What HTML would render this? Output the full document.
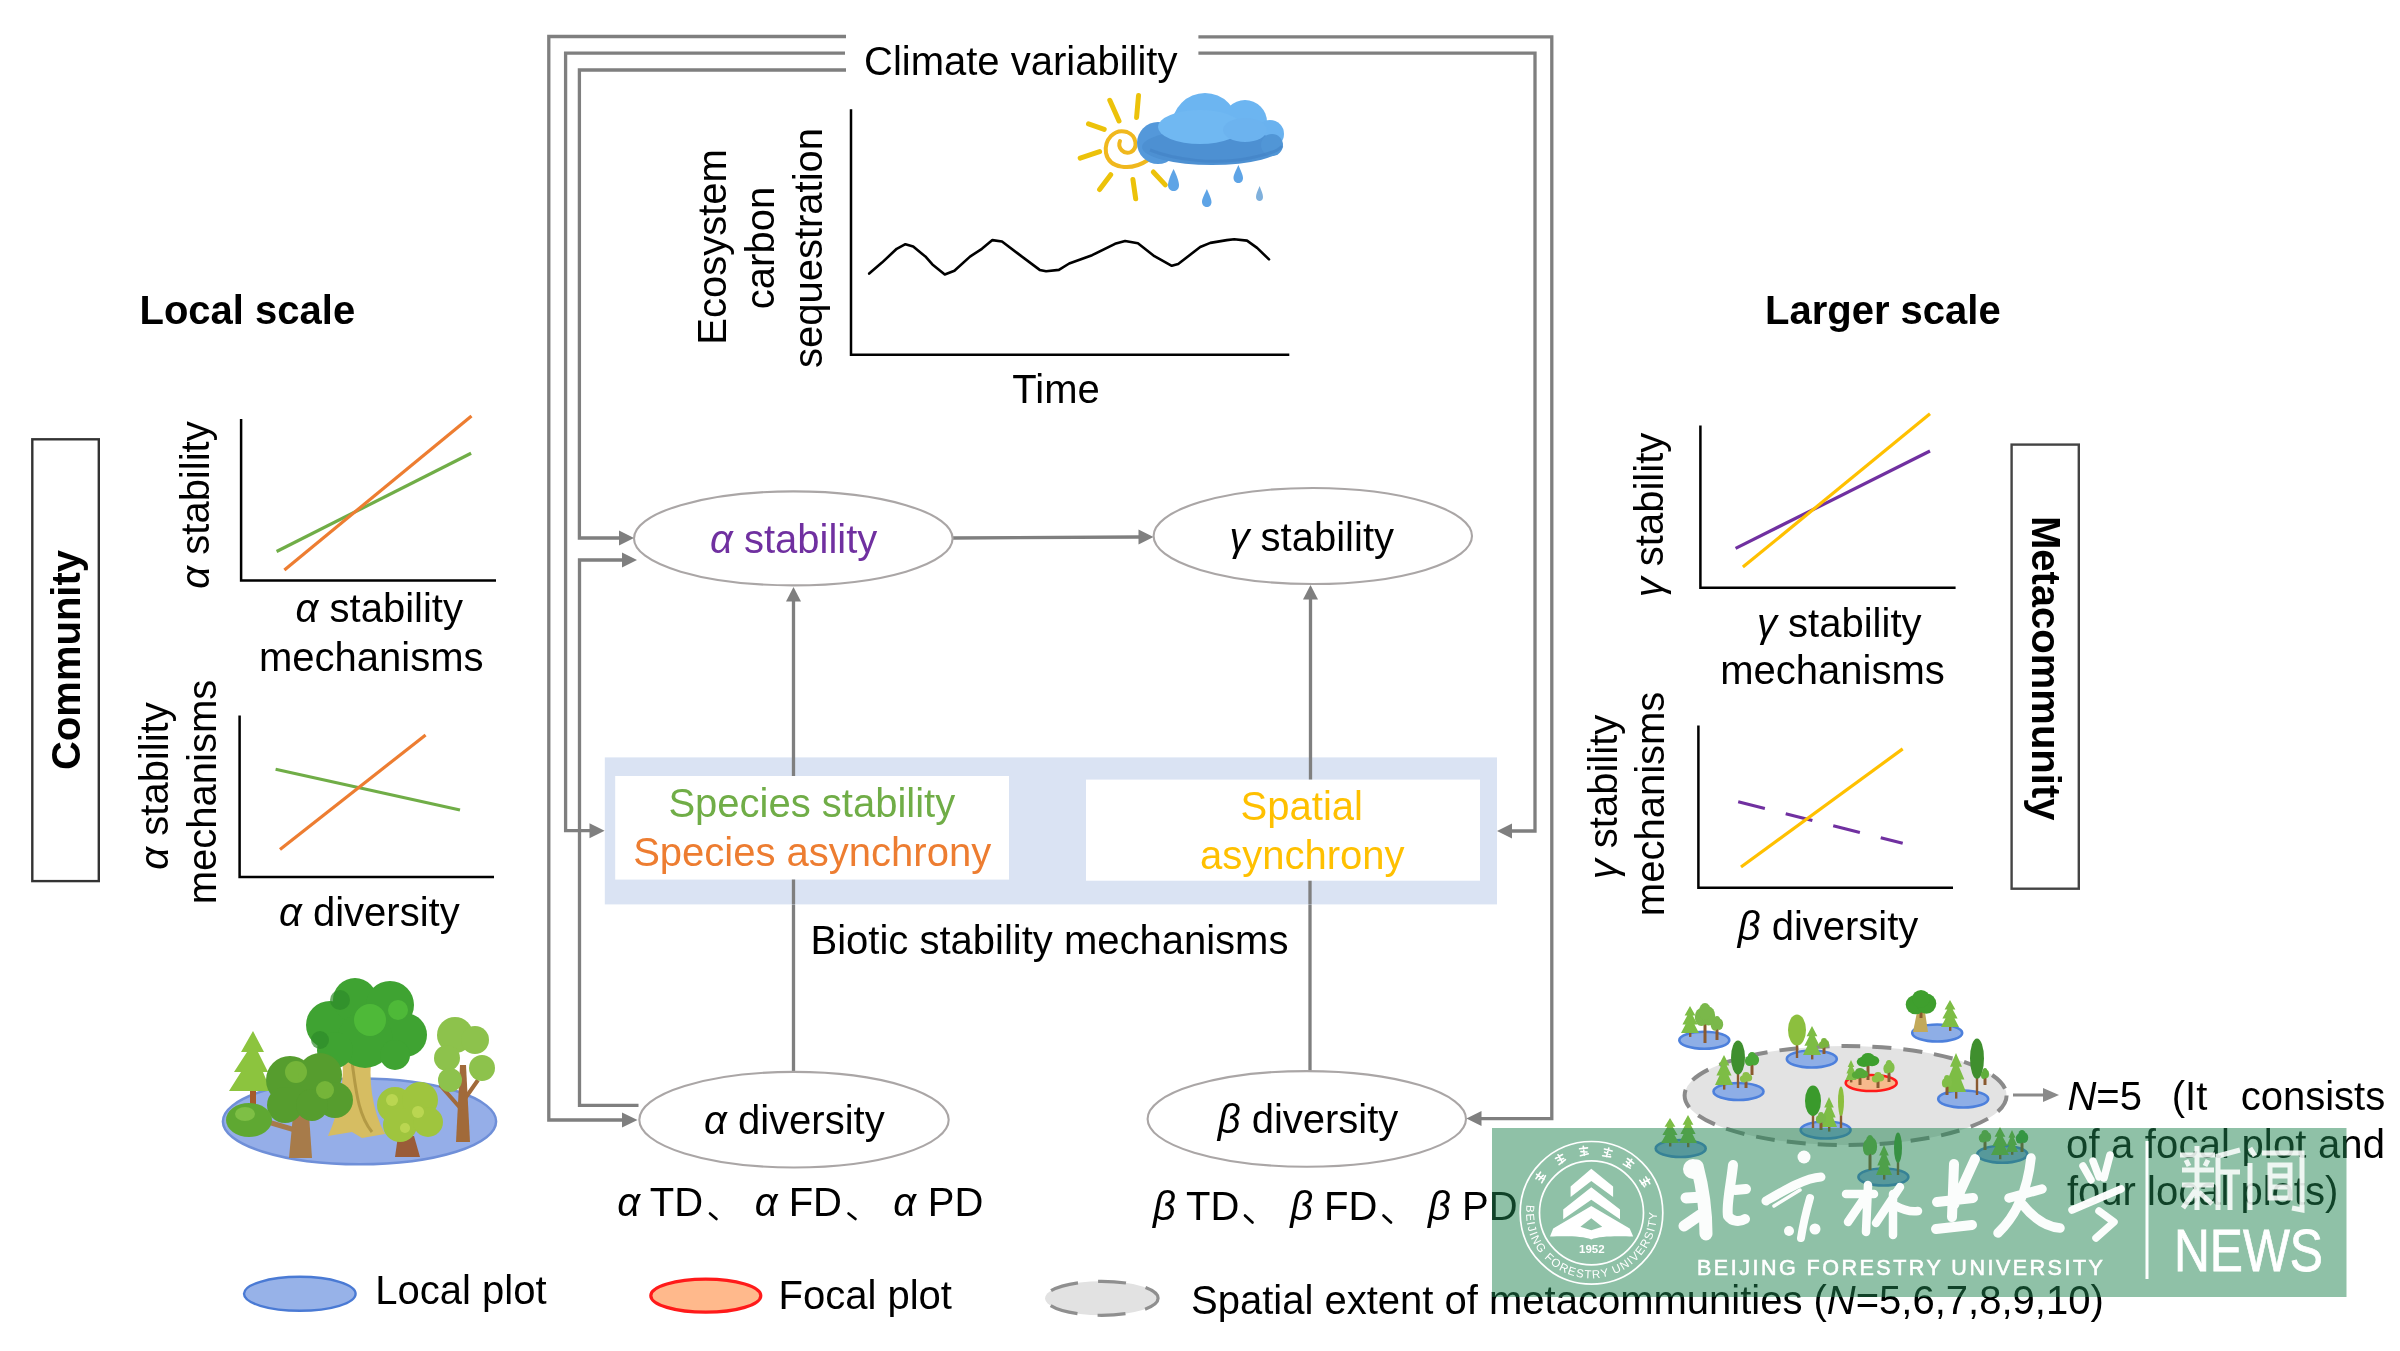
<!DOCTYPE html>
<html><head><meta charset="utf-8"><title>Diagram</title>
<style>
html,body{margin:0;padding:0;background:#fff;width:2400px;height:1351px;overflow:hidden}
svg{display:block;position:absolute;left:0;top:0;will-change:transform}
text{font-family:"Liberation Sans",sans-serif;font-size:40px;fill:#000}
.it{font-style:italic}
.b{font-weight:700}
</style></head><body>
<svg width="2400" height="1351" viewBox="0 0 2400 1351">
<!-- ===== connector brackets ===== -->
<g fill="none" stroke="#7f7f7f" stroke-width="3.3" stroke-linejoin="miter" stroke-linecap="butt">
  <path d="M846,36.5 H548.8 V1120 H624"/>
  <path d="M845,53.2 H565.6 V830.7 H591"/>
  <path d="M846,70 H579.4 V538 H620"/>
  <path d="M638.5,1105.4 H579.5 V560 H623"/>
  <path d="M1198.4,36.9 H1551.8 V1118.6 H1480"/>
  <path d="M1198.4,53.2 H1535 V831 H1511"/>
  <path d="M952,538 L1139,537"/>
  <path d="M793.5,757 V600"/>
  <path d="M793.5,904 V1072"/>
  <path d="M1310.5,757 V598"/>
  <path d="M1310,904 V1071"/>
</g>
<g fill="#7f7f7f">
  <polygon points="622,1112.5 637.5,1120 622,1127.5"/>
  <polygon points="589.5,823.2 604.6,830.7 589.5,838.2"/>
  <polygon points="619,530.5 634,538 619,545.5"/>
  <polygon points="622,552.5 637,560 622,567.5"/>
  <polygon points="1481.5,1111.1 1466.4,1118.6 1481.5,1126.1"/>
  <polygon points="1512,823.5 1497,831 1512,838.5"/>
  <polygon points="1138.5,529.5 1153.5,537 1138.5,544.5"/>
  <polygon points="786,601.5 793.5,587 801,601.5"/>
  <polygon points="1303,599.5 1310.5,585 1318,599.5"/>
</g>
<!-- ===== ellipses ===== -->
<g fill="#fff" stroke="#aaa6a6" stroke-width="2.1">
  <ellipse cx="793.3" cy="538.4" rx="159.3" ry="47"/>
  <ellipse cx="1312.8" cy="536" rx="159.2" ry="48"/>
  <ellipse cx="794" cy="1119.7" rx="154.7" ry="47.8"/>
  <ellipse cx="1306.8" cy="1118.9" rx="159.2" ry="47.8"/>
</g>
<!-- ===== biotic box ===== -->
<rect x="604.8" y="757.4" width="892.2" height="147" fill="#dae3f3"/>
<rect x="615.2" y="776" width="393.8" height="103.6" fill="#fff"/>
<rect x="1086" y="779.6" width="394" height="101.1" fill="#fff"/>
<path d="M793.5,757 V776 M793.5,879.6 V904 M1310.5,757 V779.6 M1310,880.7 V904" stroke="#7f7f7f" stroke-width="3.3"/>

<!-- ===== texts ===== -->
<text x="864" y="75">Climate variability</text>
<text class="b" x="139.5" y="323.7">Local scale</text>
<text class="b" x="1765" y="323.8">Larger scale</text>
<text x="1012.3" y="403.3">Time</text>
<text x="710" y="553" style="fill:#7030a0"><tspan class="it">α</tspan> stability</text>
<text x="1229.5" y="550.7"><tspan class="it">γ</tspan> stability</text>
<text x="668.4" y="816.7" style="fill:#70ad47">Species stability</text>
<text x="633.2" y="865.5" style="fill:#ed7d31">Species asynchrony</text>
<text x="1240.6" y="820" style="fill:#ffc000">Spatial</text>
<text x="1200" y="868.5" style="fill:#ffc000">asynchrony</text>
<text x="810.5" y="954.2">Biotic stability mechanisms</text>
<text x="704" y="1133.7"><tspan class="it">α</tspan> diversity</text>
<text x="1217.7" y="1132.5"><tspan class="it">β</tspan> diversity</text>

<!-- TD FD PD lines -->
<text class="it" x="617.3" y="1216.3">α</text><text x="649.8" y="1216.3">TD</text>
<text class="it" x="754.8" y="1216.3">α</text><text x="788.7" y="1216.3">FD</text>
<text class="it" x="893.2" y="1216.3">α</text><text x="927.8" y="1216.3">PD</text>
<text class="it" x="1153" y="1219.7">β</text><text x="1186" y="1219.7">TD</text>
<text class="it" x="1290.2" y="1219.7">β</text><text x="1324" y="1219.7">FD</text>
<text class="it" x="1428" y="1219.7">β</text><text x="1462" y="1219.7">PD</text>
<g stroke="#000" stroke-width="2.6" stroke-linecap="round">
  <path d="M710,1213.5 L716.5,1219"/><path d="M848.5,1213.5 L855.5,1219"/>
  <path d="M1245,1215.5 L1252.5,1222.5"/><path d="M1383.5,1215.5 L1391,1222.5"/>
</g>

<!-- ecosystem chart -->
<text transform="translate(726.4,247) rotate(-90)" text-anchor="middle">Ecosystem</text>
<text transform="translate(774,248) rotate(-90)" text-anchor="middle">carbon</text>
<text transform="translate(822.4,248) rotate(-90)" text-anchor="middle">sequestration</text>
<path d="M851,109.3 V354.8 H1289.3" fill="none" stroke="#000" stroke-width="2.5"/>
<polyline points="869.2,273.6 882,262.6 896.7,248.8 905.4,244.2 913.2,246.5 926,257.1 932.4,264.4 944.8,274.5 954.4,270.8 970,256.6 981.9,248.8 992.4,240.1 1002,241.5 1017.7,253.4 1039.7,269.9 1046.1,271.3 1058.9,269.9 1069.2,263.5 1092.1,255.2 1115,243.8 1125.1,241 1137.9,243.3 1154.4,256.2 1171.8,265.8 1178.2,264 1200.2,247 1210.3,242.9 1226.8,240.1 1234.2,239.2 1247,240.6 1257.1,247.9 1269,259.4" fill="none" stroke="#000" stroke-width="2.6" stroke-linejoin="round" stroke-linecap="round"/>

<!-- left charts -->
<rect x="32.3" y="439.3" width="66.5" height="441.8" fill="none" stroke="#333" stroke-width="2.4"/>
<text class="b" transform="translate(79.9,660) rotate(-90)" text-anchor="middle">Community</text>
<path d="M241.1,418.9 V580.4 H496" fill="none" stroke="#000" stroke-width="2.5"/>
<path d="M276.6,551.5 L471.1,453.3" stroke="#70ad47" stroke-width="3.2"/>
<path d="M284.4,569.9 L471.5,416" stroke="#ed7d31" stroke-width="3.2"/>
<text transform="translate(209.4,505) rotate(-90)" text-anchor="middle"><tspan class="it">α</tspan> stability</text>
<text x="295.6" y="622"><tspan class="it">α</tspan> stability</text>
<text x="259" y="670.7">mechanisms</text>
<path d="M239.6,715.6 V877.1 H494" fill="none" stroke="#000" stroke-width="2.5"/>
<path d="M275.6,769.3 L460,810" stroke="#70ad47" stroke-width="3.2"/>
<path d="M280,849.6 L425.6,734.9" stroke="#ed7d31" stroke-width="3.2"/>
<text transform="translate(167.8,786) rotate(-90)" text-anchor="middle"><tspan class="it">α</tspan> stability</text>
<text transform="translate(216.3,792) rotate(-90)" text-anchor="middle">mechanisms</text>
<text x="279" y="925.6"><tspan class="it">α</tspan> diversity</text>

<!-- right charts -->
<rect x="2011.6" y="444.6" width="67.2" height="444.1" fill="none" stroke="#444" stroke-width="2.4"/>
<text class="b" transform="translate(2031.5,668.2) rotate(90)" text-anchor="middle">Metacommunity</text>
<path d="M1700.4,425.6 V587.8 H1955.6" fill="none" stroke="#000" stroke-width="2.5"/>
<path d="M1735.6,548.4 L1930,451" stroke="#7030a0" stroke-width="3.2"/>
<path d="M1742.9,567.1 L1930,413.8" stroke="#ffc000" stroke-width="3.2"/>
<text transform="translate(1663.3,515) rotate(-90)" text-anchor="middle"><tspan class="it">γ</tspan> stability</text>
<text x="1757" y="636.7"><tspan class="it">γ</tspan> stability</text>
<text x="1720.3" y="684.4">mechanisms</text>
<path d="M1698.4,725.6 V887.8 H1953" fill="none" stroke="#000" stroke-width="2.5"/>
<path d="M1738.2,801.8 L1902.7,843.3" stroke="#7030a0" stroke-width="3.2" stroke-dasharray="27.5,21.5"/>
<path d="M1741,867 L1902.7,748.9" stroke="#ffc000" stroke-width="3.2"/>
<text transform="translate(1616.7,797) rotate(-90)" text-anchor="middle"><tspan class="it">γ</tspan> stability</text>
<text transform="translate(1664.4,803.9) rotate(-90)" text-anchor="middle">mechanisms</text>
<text x="1737.7" y="940"><tspan class="it">β</tspan> diversity</text>

<!-- legend -->
<ellipse cx="299.8" cy="1293.8" rx="55.8" ry="17" fill="#97b2e8" stroke="#4a7ad4" stroke-width="2.4"/>
<text x="375.3" y="1303.6">Local plot</text>
<ellipse cx="705.8" cy="1295.7" rx="55" ry="16.5" fill="#ffb98c" stroke="#ff1a1a" stroke-width="3.2"/>
<text x="778.5" y="1309">Focal plot</text>
<ellipse cx="1101.6" cy="1298.3" rx="56.5" ry="17" fill="#e2e2e2" stroke="#8f8f8f" stroke-width="3.2" stroke-dasharray="28,20" stroke-dashoffset="10"/>
<text x="1191" y="1314.2">Spatial extent of metacommunities (<tspan class="it">N</tspan>=5,6,7,8,9,10)</text>

<!-- N=5 text -->
<text x="2067.4" y="1109.6"><tspan class="it">N</tspan>=5</text>
<text x="2171.8" y="1109.6">(It</text>
<text x="2240.7" y="1109.6">consists</text>
<text x="2066" y="1158" textLength="319" lengthAdjust="spacing">of a focal plot and</text>
<text x="2067" y="1205.4">four local plots)</text>

<g id="icons">
<!-- sun -->
<g fill="none" stroke="#ecc20a" stroke-width="5" stroke-linecap="round">
  <path d="M1109.8,100.3 L1119,121"/>
  <path d="M1138.5,95.6 L1136.6,117.4"/>
  <path d="M1088.5,123.9 L1104.2,129.4"/>
  <path d="M1080.2,158.1 L1099.6,151.6"/>
  <path d="M1099.6,189.5 L1110.7,174.7"/>
  <path d="M1132.9,179.4 L1135.7,198.8"/>
  <path d="M1153.3,172 L1165.3,184.9"/>
  <path d="M1120,141 C1117,148 1124,155 1131,152 C1138,148 1137,136 1127,132 C1114,128 1104,140 1106,153 C1109,168 1130,172 1148,160" stroke="#f0b81e" stroke-width="4"/>
</g>
<!-- cloud -->
<g>
  <circle cx="1205" cy="126" r="33" fill="#6cb5f1"/>
  <circle cx="1245" cy="122" r="22" fill="#6cb5f1"/>
  <circle cx="1270" cy="134" r="14" fill="#6ab2ef"/>
  <circle cx="1158" cy="143" r="21" fill="#5498da"/>
  <ellipse cx="1212" cy="147" rx="70" ry="18" fill="#4d90d2"/>
  <circle cx="1272" cy="145" r="11" fill="#5196d6"/>
  <ellipse cx="1200" cy="127" rx="42" ry="17" fill="#70b8f2"/>
  <ellipse cx="1245" cy="130" rx="22" ry="12" fill="#6cb3ef"/>
  <path d="M1150,150 C1175,160 1215,165 1250,158 C1265,155 1278,152 1282,146" fill="none" stroke="#4282c4" stroke-width="3" opacity="0.6"/>
</g>
<g fill="#5ea4e6">
  <path d="M1173.6,169 C1170,176 1168,182 1168,185 C1168,189 1171,191 1173.6,191 C1176.5,191 1179,189 1179,185 C1179,182 1177,176 1173.6,169Z"/>
  <path d="M1206.9,189 C1204,195 1202,199 1202,202 C1202,205 1204.5,207 1206.9,207 C1209.5,207 1211.5,205 1211.5,202 C1211.5,199 1209.5,195 1206.9,189Z"/>
  <path d="M1238.4,165 C1235.5,171 1233.5,175 1233.5,178 C1233.5,181 1236,183 1238.4,183 C1241,183 1243,181 1243,178 C1243,175 1241,171 1238.4,165Z"/>
  <path d="M1259.6,186 C1257.5,191 1256,194 1256,197 C1256,199.5 1257.8,201 1259.6,201 C1261.5,201 1263,199.5 1263,197 C1263,194 1261.5,191 1259.6,186Z" fill="#7fb0dc"/>
</g>

<!-- ===== local plot trees ===== -->
<ellipse cx="359.5" cy="1121.4" rx="136.6" ry="42.9" fill="#95aee8" stroke="#6f8fd8" stroke-width="2.5"/>
<!-- pine left -->
<path d="M250,1086 h6 v22 h-6z" fill="#a55a2c"/>
<path d="M253,1031 L241,1052 L247,1052 L234,1072 L241,1072 L229,1091 L271,1091 L263,1072 L268,1072 L258,1052 L264,1052 Z" fill="#8cc43e"/>
<!-- center tall tree -->
<path d="M342,1050 C345,1080 340,1110 328,1136 L352,1132 L362,1138 L385,1134 C372,1110 368,1080 372,1050 Z" fill="#d6bd62"/>
<path d="M352,1062 C356,1090 358,1115 372,1132" stroke="#b39a45" stroke-width="3" fill="none"/>
<g fill="#3fa332">
  <circle cx="330" cy="1025" r="24"/>
  <circle cx="355" cy="1000" r="22"/>
  <circle cx="390" cy="1005" r="24"/>
  <circle cx="405" cy="1035" r="22"/>
  <circle cx="365" cy="1040" r="28"/>
  <circle cx="335" cy="1050" r="18"/>
  <circle cx="395" cy="1055" r="15"/>
</g>
<g fill="#52bf3a" opacity="0.8">
  <circle cx="370" cy="1020" r="16"/>
  <circle cx="398" cy="1010" r="10"/>
</g>
<g fill="#2e8a2a" opacity="0.7">
  <circle cx="340" cy="1000" r="10"/>
  <circle cx="320" cy="1040" r="9"/>
</g>
<!-- right tree -->
<path d="M460,1065 L466,1065 L470,1142 L456,1142 Z" fill="#a16a3a"/>
<path d="M462,1110 L440,1085 M464,1100 L478,1080" stroke="#a16a3a" stroke-width="4" fill="none"/>
<g fill="#8dc24c">
  <circle cx="455" cy="1035" r="18"/>
  <circle cx="475" cy="1040" r="14"/>
  <circle cx="447" cy="1058" r="13"/>
  <circle cx="482" cy="1068" r="13"/>
  <circle cx="450" cy="1080" r="12"/>
</g>
<!-- left oak -->
<path d="M293,1115 L309,1115 L312,1158 L289,1158 Z" fill="#a77b4a"/>
<path d="M295,1130 L268,1122" stroke="#a77b4a" stroke-width="5"/>
<g fill="#569d2e">
  <circle cx="290" cy="1080" r="24"/>
  <circle cx="320" cy="1075" r="22"/>
  <circle cx="335" cy="1100" r="18"/>
  <circle cx="285" cy="1105" r="18"/>
  <circle cx="312" cy="1105" r="16"/>
</g>
<g fill="#7dbb3c" opacity="0.8">
  <circle cx="296" cy="1072" r="11"/>
  <circle cx="325" cy="1090" r="9"/>
</g>
<!-- small bush -->
<ellipse cx="249" cy="1120" rx="23" ry="17" fill="#5fa832"/>
<ellipse cx="245" cy="1114" rx="10" ry="7" fill="#86c44a" opacity="0.8"/>
<!-- right bush -->
<path d="M398,1136 L414,1136 L420,1157 L395,1157 Z" fill="#9a5c38"/>
<g fill="#9fc53e">
  <circle cx="395" cy="1105" r="18"/>
  <circle cx="420" cy="1100" r="18"/>
  <circle cx="400" cy="1125" r="17"/>
  <circle cx="428" cy="1122" r="15"/>
</g>
<g fill="#c6de5a" opacity="0.7">
  <circle cx="392" cy="1100" r="6"/><circle cx="418" cy="1112" r="6"/><circle cx="405" cy="1128" r="5"/>
</g>
</g>

<g id="meta">
<ellipse cx="1845.6" cy="1095.5" rx="161" ry="49.5" fill="#e3e3e3" stroke="#8a8a8a" stroke-width="4" stroke-dasharray="19,12"/>
<path d="M2013,1095 H2044" stroke="#8a8a8a" stroke-width="3"/>
<polygon points="2043,1088 2059,1095 2043,1102" fill="#8a8a8a"/>
<ellipse cx="1704.3" cy="1040.2" rx="25" ry="8.5" fill="#8eaee6" stroke="#4d80dc" stroke-width="2.6"/>
<path d="M1689,1031 h2.4 v5.9 h-2.4z" fill="#8a5a30"/><path d="M1690.0,1006.0 L1684.6,1015.5 L1687.3,1015.5 L1682.4,1024.4 L1685.5,1024.4 L1681.0,1033.0 L1699.0,1033.0 L1694.5,1024.4 L1697.6,1024.4 L1692.7,1015.5 L1695.4,1015.5Z" fill="#7dbd45"/>
<path d="M1703.5,1022.2 h3 v20.8 h-3z" fill="#8a5a30"/><ellipse cx="1701.4" cy="1017.0" rx="6.6" ry="9.1" fill="#7ab84a"/><ellipse cx="1708.6" cy="1016.0" rx="6.6" ry="9.6" fill="#7ab84a"/><ellipse cx="1705" cy="1011.4" rx="6.0" ry="8.4" fill="#7ab84a"/>
<path d="M1715.5,1027.5 h3 v12.5 h-3z" fill="#8a5a30"/><ellipse cx="1714.8" cy="1025.2" rx="4.0" ry="5.5" fill="#7ab84a"/><ellipse cx="1719.2" cy="1024.2" rx="4.0" ry="5.8" fill="#7ab84a"/><ellipse cx="1717" cy="1021.0" rx="3.6" ry="5.0" fill="#7ab84a"/>
<ellipse cx="1738.5" cy="1091.5" rx="25" ry="8.5" fill="#8eaee6" stroke="#4d80dc" stroke-width="2.6"/>
<path d="M1723,1083 h2.4 v6.6 h-2.4z" fill="#8a5a30"/><path d="M1724.0,1055.0 L1718.6,1065.5 L1721.3,1065.5 L1716.4,1075.4 L1719.5,1075.4 L1715.0,1085.0 L1733.0,1085.0 L1728.5,1075.4 L1731.6,1075.4 L1726.7,1065.5 L1729.4,1065.5Z" fill="#7dbd45"/>
<path d="M1736.8,1069.2 h2.4 v18.8 h-2.4z" fill="#8a5a30"/><ellipse cx="1738" cy="1057.5" rx="7.0" ry="16.9" fill="#3f8f2e"/>
<path d="M1750.5,1063.0 h3 v12.0 h-3z" fill="#8a5a30"/><ellipse cx="1749.5" cy="1060.9" rx="4.6" ry="5.2" fill="#49a836"/><ellipse cx="1754.5" cy="1059.9" rx="4.6" ry="5.5" fill="#49a836"/><ellipse cx="1752" cy="1056.8" rx="4.2" ry="4.8" fill="#49a836"/>
<path d="M1744.5,1079.7 h3 v8.3 h-3z" fill="#8a5a30"/><ellipse cx="1743.8" cy="1078.8" rx="4.0" ry="3.6" fill="#8cc04a"/><ellipse cx="1748.2" cy="1077.8" rx="4.0" ry="3.8" fill="#8cc04a"/><ellipse cx="1746" cy="1075.4" rx="3.6" ry="3.4" fill="#8cc04a"/>
<ellipse cx="1811.8" cy="1059" rx="25" ry="8.5" fill="#8eaee6" stroke="#4d80dc" stroke-width="2.6"/>
<path d="M1795.8,1040.8 h2.4 v17.2 h-2.4z" fill="#8a5a30"/><ellipse cx="1797" cy="1030.0" rx="9.0" ry="15.5" fill="#8cbf3e"/>
<path d="M1811,1053 h2.4 v6.4 h-2.4z" fill="#8a5a30"/><path d="M1812.0,1026.0 L1806.6,1036.2 L1809.3,1036.2 L1804.4,1045.7 L1807.5,1045.7 L1803.0,1055.0 L1821.0,1055.0 L1816.5,1045.7 L1819.6,1045.7 L1814.7,1036.2 L1817.4,1036.2Z" fill="#7dbd45"/>
<path d="M1822.5,1045.7 h3 v8.3 h-3z" fill="#8a5a30"/><ellipse cx="1822.2" cy="1044.8" rx="3.3" ry="3.6" fill="#7ab43e"/><ellipse cx="1825.8" cy="1043.8" rx="3.3" ry="3.8" fill="#7ab43e"/><ellipse cx="1824" cy="1041.4" rx="3.0" ry="3.4" fill="#7ab43e"/>
<ellipse cx="1871.2" cy="1083" rx="25.5" ry="8" fill="#f7b98c" stroke="#ff1a1a" stroke-width="2.6"/>
<path d="M1866.5,1063.8 h3 v16.2 h-3z" fill="#8a5a30"/><ellipse cx="1864.0" cy="1061.8" rx="7.3" ry="5.1" fill="#3d9f2e"/><ellipse cx="1872.0" cy="1060.8" rx="7.3" ry="5.4" fill="#3d9f2e"/><ellipse cx="1868" cy="1057.7" rx="6.6" ry="4.7" fill="#3d9f2e"/>
<path d="M1850,1078 h2.4 v4.4 h-2.4z" fill="#8a5a30"/><path d="M1851.0,1060.0 L1847.7,1067.0 L1849.3,1067.0 L1846.4,1073.6 L1848.2,1073.6 L1845.5,1080.0 L1856.5,1080.0 L1853.8,1073.6 L1855.6,1073.6 L1852.7,1067.0 L1854.3,1067.0Z" fill="#80be48"/>
<path d="M1858.5,1076.2 h3 v8.8 h-3z" fill="#8a5a30"/><ellipse cx="1857.1" cy="1075.1" rx="5.3" ry="3.9" fill="#55a838"/><ellipse cx="1862.9" cy="1074.1" rx="5.3" ry="4.1" fill="#55a838"/><ellipse cx="1860" cy="1071.6" rx="4.8" ry="3.6" fill="#55a838"/>
<path d="M1887.5,1070.6 h3 v11.4 h-3z" fill="#8a5a30"/><ellipse cx="1887.0" cy="1068.6" rx="3.6" ry="5.0" fill="#82bf4a"/><ellipse cx="1891.0" cy="1067.6" rx="3.6" ry="5.3" fill="#82bf4a"/><ellipse cx="1889" cy="1064.6" rx="3.3" ry="4.6" fill="#82bf4a"/>
<path d="M1876.5,1079.7 h3 v8.3 h-3z" fill="#8a5a30"/><ellipse cx="1875.8" cy="1078.8" rx="4.0" ry="3.6" fill="#8ec045"/><ellipse cx="1880.2" cy="1077.8" rx="4.0" ry="3.8" fill="#8ec045"/><ellipse cx="1878" cy="1075.4" rx="3.6" ry="3.4" fill="#8ec045"/>
<ellipse cx="1937.2" cy="1033" rx="25" ry="8.5" fill="#8eaee6" stroke="#4d80dc" stroke-width="2.6"/>
<path d="M1917,1012 L1925,1012 L1928,1032 L1913,1032Z" fill="#c2a95a"/>
<path d="M1919.5,1010.2 h3 v7.8 h-3z" fill="#8a5a30"/><ellipse cx="1915.6" cy="1004.6" rx="9.9" ry="9.6" fill="#3f9f2e"/><ellipse cx="1926.4" cy="1003.6" rx="9.9" ry="10.1" fill="#3f9f2e"/><ellipse cx="1921" cy="998.8" rx="9.0" ry="8.8" fill="#3f9f2e"/>
<path d="M1949,1025 h2.4 v5.9 h-2.4z" fill="#8a5a30"/><path d="M1950.0,1000.0 L1944.6,1009.5 L1947.3,1009.5 L1942.4,1018.4 L1945.5,1018.4 L1941.0,1027.0 L1959.0,1027.0 L1954.5,1018.4 L1957.6,1018.4 L1952.7,1009.5 L1955.4,1009.5Z" fill="#7dbd45"/>
<ellipse cx="1963.2" cy="1099" rx="25" ry="8.5" fill="#8eaee6" stroke="#4d80dc" stroke-width="2.6"/>
<path d="M1955,1090 h2.4 v8.6 h-2.4z" fill="#8a5a30"/><path d="M1956.0,1053.0 L1950.0,1066.7 L1953.0,1066.7 L1947.6,1079.5 L1951.0,1079.5 L1946.0,1092.0 L1966.0,1092.0 L1961.0,1079.5 L1964.4,1079.5 L1959.0,1066.7 L1962.0,1066.7Z" fill="#7dbd45"/>
<path d="M1975.8,1072.6 h2.4 v22.4 h-2.4z" fill="#8a5a30"/><ellipse cx="1977" cy="1058.6" rx="7.0" ry="20.2" fill="#3f8f2e"/>
<path d="M1945.5,1084.6 h3 v10.4 h-3z" fill="#8a5a30"/><ellipse cx="1945.2" cy="1083.0" rx="3.3" ry="4.6" fill="#80be48"/><ellipse cx="1948.8" cy="1082.0" rx="3.3" ry="4.8" fill="#80be48"/><ellipse cx="1947" cy="1079.2" rx="3.0" ry="4.2" fill="#80be48"/>
<path d="M1983.5,1076.2 h3 v8.8 h-3z" fill="#8a5a30"/><ellipse cx="1983.6" cy="1075.1" rx="2.6" ry="3.9" fill="#5fae3c"/><ellipse cx="1986.4" cy="1074.1" rx="2.6" ry="4.1" fill="#5fae3c"/><ellipse cx="1985" cy="1071.6" rx="2.4" ry="3.6" fill="#5fae3c"/>
<ellipse cx="1825.6" cy="1130" rx="25" ry="8.5" fill="#8eaee6" stroke="#4d80dc" stroke-width="2.6"/>
<path d="M1811.8,1111.2 h2.4 v16.8 h-2.4z" fill="#8a5a30"/><ellipse cx="1813" cy="1100.7" rx="8.0" ry="15.1" fill="#3a9a2c"/>
<path d="M1828,1125 h2.4 v6.6 h-2.4z" fill="#8a5a30"/><path d="M1829.0,1097.0 L1824.2,1107.5 L1826.6,1107.5 L1822.3,1117.4 L1825.0,1117.4 L1821.0,1127.0 L1837.0,1127.0 L1833.0,1117.4 L1835.7,1117.4 L1831.4,1107.5 L1833.8,1107.5Z" fill="#7dbd45"/>
<path d="M1839.8,1111.6 h2.4 v16.4 h-2.4z" fill="#8a5a30"/><ellipse cx="1841" cy="1101.3" rx="3.0" ry="14.8" fill="#8cbf3e"/>
<path d="M1819.5,1120.6 h3 v9.4 h-3z" fill="#8a5a30"/><ellipse cx="1819.2" cy="1119.4" rx="3.3" ry="4.1" fill="#7ab84a"/><ellipse cx="1822.8" cy="1118.4" rx="3.3" ry="4.3" fill="#7ab84a"/><ellipse cx="1821" cy="1115.8" rx="3.0" ry="3.8" fill="#7ab84a"/>
<ellipse cx="1680.7" cy="1148.5" rx="25" ry="8.5" fill="#8eaee6" stroke="#4d80dc" stroke-width="2.6"/>
<path d="M1669,1141 h2.4 v5.5 h-2.4z" fill="#8a5a30"/><path d="M1670.0,1118.0 L1664.6,1126.8 L1667.3,1126.8 L1662.4,1135.0 L1665.5,1135.0 L1661.0,1143.0 L1679.0,1143.0 L1674.5,1135.0 L1677.6,1135.0 L1672.7,1126.8 L1675.4,1126.8Z" fill="#7dbd45"/>
<path d="M1687,1141 h2.4 v6.2 h-2.4z" fill="#8a5a30"/><path d="M1688.0,1115.0 L1682.6,1124.8 L1685.3,1124.8 L1680.4,1134.0 L1683.5,1134.0 L1679.0,1143.0 L1697.0,1143.0 L1692.5,1134.0 L1695.6,1134.0 L1690.7,1124.8 L1693.4,1124.8Z" fill="#7dbd45"/>
<ellipse cx="1883.4" cy="1177" rx="25" ry="8.5" fill="#8eaee6" stroke="#4d80dc" stroke-width="2.6"/>
<path d="M1868.5,1151.8 h3 v18.2 h-3z" fill="#8a5a30"/><ellipse cx="1867.5" cy="1147.5" rx="4.6" ry="8.0" fill="#70b445"/><ellipse cx="1872.5" cy="1146.5" rx="4.6" ry="8.4" fill="#70b445"/><ellipse cx="1870" cy="1142.3" rx="4.2" ry="7.3" fill="#70b445"/>
<path d="M1883,1173 h2.4 v6.6 h-2.4z" fill="#8a5a30"/><path d="M1884.0,1145.0 L1879.2,1155.5 L1881.6,1155.5 L1877.3,1165.4 L1880.0,1165.4 L1876.0,1175.0 L1892.0,1175.0 L1888.0,1165.4 L1890.7,1165.4 L1886.4,1155.5 L1888.8,1155.5Z" fill="#7dbd45"/>
<path d="M1896.8,1158.2 h2.4 v16.8 h-2.4z" fill="#8a5a30"/><ellipse cx="1898" cy="1147.7" rx="4.0" ry="15.1" fill="#4f9f36"/>
<ellipse cx="2002.3" cy="1154.2" rx="25" ry="8.5" fill="#8eaee6" stroke="#4d80dc" stroke-width="2.6"/>
<path d="M1983.5,1139.6 h3 v10.4 h-3z" fill="#8a5a30"/><ellipse cx="1982.8" cy="1138.0" rx="4.0" ry="4.6" fill="#7ab84a"/><ellipse cx="1987.2" cy="1137.0" rx="4.0" ry="4.8" fill="#7ab84a"/><ellipse cx="1985" cy="1134.2" rx="3.6" ry="4.2" fill="#7ab84a"/>
<path d="M1999,1153 h2.4 v6.2 h-2.4z" fill="#8a5a30"/><path d="M2000.0,1127.0 L1994.6,1136.8 L1997.3,1136.8 L1992.4,1146.0 L1995.5,1146.0 L1991.0,1155.0 L2009.0,1155.0 L2004.5,1146.0 L2007.6,1146.0 L2002.7,1136.8 L2005.4,1136.8Z" fill="#7dbd45"/>
<path d="M2011,1150 h2.4 v4.8 h-2.4z" fill="#8a5a30"/><path d="M2012.0,1130.0 L2008.4,1137.7 L2010.2,1137.7 L2007.0,1145.0 L2009.0,1145.0 L2006.0,1152.0 L2018.0,1152.0 L2015.0,1145.0 L2017.0,1145.0 L2013.8,1137.7 L2015.6,1137.7Z" fill="#7dbd45"/>
<path d="M2020.5,1140.6 h3 v11.4 h-3z" fill="#8a5a30"/><ellipse cx="2019.8" cy="1138.6" rx="4.0" ry="5.0" fill="#4aa838"/><ellipse cx="2024.2" cy="1137.6" rx="4.0" ry="5.3" fill="#4aa838"/><ellipse cx="2022" cy="1134.6" rx="3.6" ry="4.6" fill="#4aa838"/>
</g>
<g id="watermark">
<rect x="1492" y="1128" width="854.5" height="169" fill="#1f844f" fill-opacity="0.5"/>
<g fill="none" stroke="#fff" stroke-width="1.7"><circle cx="1591.5" cy="1212.8" r="71.3"/><circle cx="1591.5" cy="1212.8" r="52"/></g>
<g fill="#fff"><path d="M1591.3,1168.8 L1613.1,1186.6 L1613.1,1197 L1591.3,1180.9 L1570.6,1197 L1570.6,1186.6Z"/><path d="M1591.3,1187.2 L1620,1209.6 L1620,1219.3 L1591.3,1199.8 L1563.2,1219.3 L1563.2,1209.6Z"/><path d="M1591.3,1206.1 L1629.7,1228.5 L1633.2,1236.5 C1620,1236 1600,1235.5 1591.3,1239.4 C1583,1235.5 1562,1236 1550,1236.5 L1553.2,1228.6 Z M1591.3,1218.2 L1580.4,1226.8 L1591.3,1230.2 L1602.2,1226.8Z" fill-rule="evenodd"/></g>
<text x="1591.8" y="1253.3" text-anchor="middle" style="font-size:11.5px;font-weight:700;fill:#fff">1952</text>
<path id="ring" d="M1526.5,1204.8 A65.5,65.5 0 1 0 1655.6,1199.2" fill="none"/>
<text style="font-size:11.5px;fill:#fff;letter-spacing:1.2px"><textPath href="#ring" startOffset="0">BEIJING FORESTRY UNIVERSITY</textPath></text>
<g transform="translate(1540.7,1177.2) rotate(-55)" stroke="#fff" stroke-width="1.6" stroke-linecap="round" fill="none"><path d="M-4,-3 L4,-3 M-3,0 L3,1 M0,-5 L0,4 M-4,4 L4,3"/></g>
<g transform="translate(1560.5,1159.1) rotate(-30)" stroke="#fff" stroke-width="1.6" stroke-linecap="round" fill="none"><path d="M-4,-3 L4,-3 M-3,0 L3,1 M0,-5 L0,4 M-4,4 L4,3"/></g>
<g transform="translate(1583.9,1151.3) rotate(-7)" stroke="#fff" stroke-width="1.6" stroke-linecap="round" fill="none"><path d="M-4,-3 L4,-3 M-3,0 L3,1 M0,-5 L0,4 M-4,4 L4,3"/></g>
<g transform="translate(1607.5,1152.9) rotate(15)" stroke="#fff" stroke-width="1.6" stroke-linecap="round" fill="none"><path d="M-4,-3 L4,-3 M-3,0 L3,1 M0,-5 L0,4 M-4,4 L4,3"/></g>
<g transform="translate(1628.8,1163.3) rotate(37)" stroke="#fff" stroke-width="1.6" stroke-linecap="round" fill="none"><path d="M-4,-3 L4,-3 M-3,0 L3,1 M0,-5 L0,4 M-4,4 L4,3"/></g>
<g transform="translate(1645.2,1181.8) rotate(60)" stroke="#fff" stroke-width="1.6" stroke-linecap="round" fill="none"><path d="M-4,-3 L4,-3 M-3,0 L3,1 M0,-5 L0,4 M-4,4 L4,3"/></g>
<g stroke="#fff" fill="none" stroke-linecap="round" stroke-linejoin="round" opacity="0.97">
<path d="M1697,1166 C1702,1185 1706,1205 1706,1234" stroke-width="13"/>
<circle cx="1693" cy="1169" r="10" fill="#fff" stroke="none"/>
<path d="M1686,1198 L1703,1197 M1684,1226 L1700,1215" stroke-width="11"/>
<path d="M1733,1165 C1731,1185 1726,1205 1728,1216 C1732,1222 1740,1222 1745,1219" stroke-width="10"/>
<path d="M1735,1190 L1746,1189" stroke-width="10"/>
<circle cx="1804" cy="1157" r="6.5" fill="#fff" stroke="none"/>
<path d="M1766,1201 C1785,1190 1805,1178 1821,1177" stroke-width="9"/>
<path d="M1800,1190 L1774,1206" stroke-width="3.5"/>
<path d="M1810,1198 C1806,1212 1803,1225 1801,1238" stroke-width="8"/>
<circle cx="1789" cy="1231" r="5" fill="#fff" stroke="none"/><circle cx="1815" cy="1229" r="5.5" fill="#fff" stroke="none"/>
<path d="M1846,1194 L1874,1194 M1868,1185 L1866,1232 M1863,1200 L1848,1222" stroke-width="8.5"/>
<path d="M1900,1187 L1876,1223 M1893,1194 L1893,1235 M1894,1205 C1903,1210 1912,1212 1918,1211" stroke-width="8.5"/>
<path d="M1954,1164 L1952,1217 M1975,1159 L1954,1205 M1937,1202 L1973,1198 M1936,1229 L1972,1225" stroke-width="10"/>
<path d="M2031,1158 C2028,1185 2020,1212 1998,1233 M2009,1198 L2042,1189 M2023,1205 C2035,1220 2048,1227 2060,1228" stroke-width="9.5"/>
<path d="M2083,1166 L2091,1180 M2093,1161 L2099,1177 M2110,1155 L2104,1178 M2072,1210 L2121,1189 M2099,1211 L2114,1222 L2096,1238" stroke-width="7.5"/>
</g>
<text x="1697" y="1275" style="font-size:21.5px;fill:#fff;stroke:#fff;stroke-width:0.6;letter-spacing:2.5px">BEIJING FORESTRY UNIVERSITY</text>
<path d="M2147,1141 V1279" stroke="#fff" stroke-width="3"/>
<g stroke="#fff" stroke-opacity="0.85" fill="none" stroke-width="5"><path d="M2180,1155 L2215,1155 M2197,1146 L2197,1210 M2182,1170 L2214,1170 M2182,1185 L2214,1185 M2197,1188 L2183,1208 M2199,1192 L2212,1204 M2186,1160 L2189,1166 M2208,1160 L2205,1166"/><path d="M2240,1150 L2218,1156 L2218,1210 M2220,1172 L2240,1172 M2230,1172 L2230,1210"/><path d="M2250,1148 L2255,1156 M2262,1153 L2302,1153 L2302,1210 L2292,1208 M2250,1163 L2250,1210 M2270,1165 L2290,1165 L2290,1198 L2270,1198 Z M2270,1176 L2290,1176 M2270,1187 L2290,1187"/></g>
<text x="2174" y="1271" textLength="149" lengthAdjust="spacingAndGlyphs" style="font-size:60px;fill:#fff;stroke:#fff;stroke-width:0.8">NEWS</text>
</g>
</svg>
</body></html>
